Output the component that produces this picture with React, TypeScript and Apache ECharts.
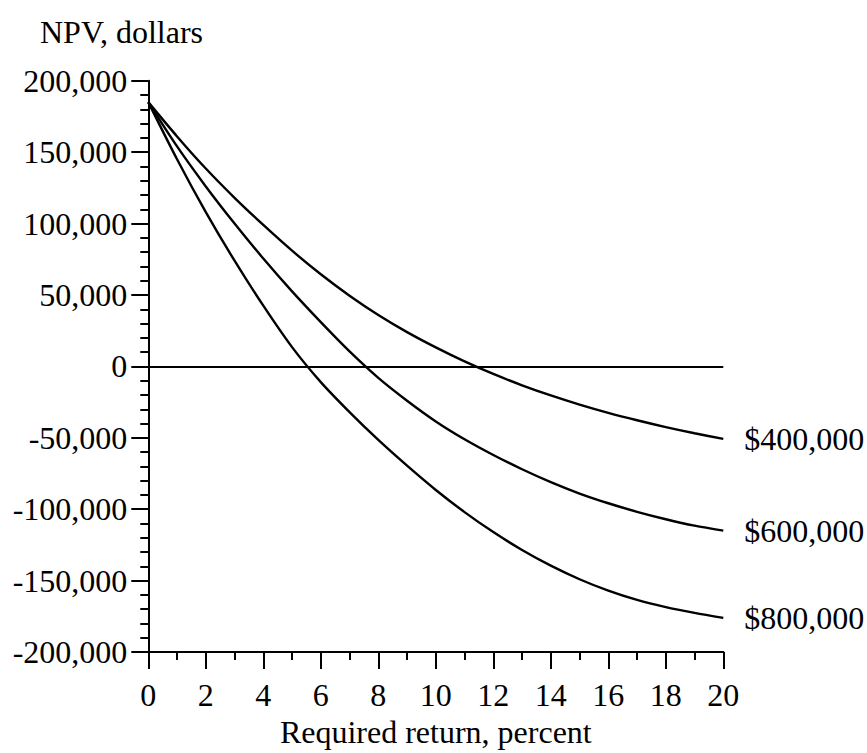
import React, { useEffect, useRef } from "react";
import * as echarts from "echarts";

const rates = [0, 1, 2, 3, 4, 5, 6, 7, 8, 9, 10, 11, 12, 13, 14, 15, 16, 17, 18, 19, 20];
const npv400 = [185000, 161000, 138500, 118000, 99000, 81000, 64500, 49500, 36000, 24000, 13300, 3500, -5300, -13200, -20300, -26700, -32500, -37700, -42500, -46800, -50700];
const npv600 = [185000, 154000, 126000, 100000, 75500, 52500, 31000, 10500, -8000, -24000, -38500, -51000, -62000, -72000, -81000, -89000, -95800, -101800, -107000, -111500, -115000];
const npv800 = [185000, 145000, 108000, 74000, 42500, 13500, -11000, -32000, -51500, -69500, -86500, -102000, -116000, -128500, -139500, -149000, -157000, -163500, -168500, -172500, -176000];
const seriesNames = ["$400,000", "$600,000", "$800,000"];
const xTitle = "Required return, percent";
const yTitle = "NPV, dollars";

const FONT = '"Liberation Serif", "Times New Roman", serif';

export default function App() {
  const ref = useRef<HTMLDivElement>(null);
  useEffect(() => {
    if (!ref.current) return;
    const chart = echarts.init(ref.current, null, { renderer: "svg" });
    const textStyle = { fontFamily: FONT, fontSize: 32, color: "#000" };
    const lineStyleAxis = { color: "#000", width: 2 };
    const mk = (name: string, vals: number[], withZero: boolean) => ({
      type: "line",
      name,
      data: rates.map((r, i) => [r, vals[i]]),
      smooth: 0.3,
      symbol: "none",
      lineStyle: { color: "#000", width: 2.4 },
      endLabel: {
        show: true,
        formatter: name,
        distance: 21,
        ...textStyle,
      },
      markLine: withZero
        ? {
            silent: true,
            symbol: ["none", "none"],
            label: { show: false },
            lineStyle: { type: "solid", color: "#000", width: 1.8 },
            data: [{ yAxis: 0 }],
          }
        : undefined,
      z: 3,
    });
    chart.setOption({
      animation: false,
      backgroundColor: "#fff",
      title: {
        text: yTitle,
        left: 40,
        top: 16,
        padding: 0,
        textStyle: { fontFamily: FONT, fontSize: 32, color: "#000", fontWeight: "normal" },
      },
      grid: { left: 148.3, top: 80.7, width: 575, height: 576, containLabel: false },
      xAxis: {
        type: "value",
        min: 0,
        max: 20,
        interval: 2,
        axisLine: { show: true, onZero: false, lineStyle: lineStyleAxis },
        axisTick: { show: true, length: 17, lineStyle: lineStyleAxis },
        minorTick: { show: true, splitNumber: 2, length: 8, lineStyle: lineStyleAxis },
        splitLine: { show: false },
        minorSplitLine: { show: false },
        axisLabel: { ...textStyle, margin: 27 },
        name: xTitle,
        nameLocation: "middle",
        nameGap: 45,
        nameTextStyle: textStyle,
      },
      yAxis: {
        type: "value",
        min: -200000,
        max: 200000,
        interval: 50000,
        axisLine: { show: true, onZero: false, lineStyle: lineStyleAxis },
        axisTick: { show: true, length: 17, lineStyle: lineStyleAxis },
        minorTick: { show: true, splitNumber: 5, length: 8, lineStyle: lineStyleAxis },
        splitLine: { show: false },
        minorSplitLine: { show: false },
        axisLabel: {
          ...textStyle,
          margin: 21,
          formatter: (v: number) => v.toLocaleString("en-US"),
        },
      },
      series: [
        mk(seriesNames[0], npv400, true),
        mk(seriesNames[1], npv600, false),
        mk(seriesNames[2], npv800, false),
      ],
    });
    return () => chart.dispose();
  }, []);
  return (
    <div
      ref={ref}
      style={{ position: "fixed", left: 0, top: 0, width: 867, height: 753, background: "#fff" }}
    />
  );
}
